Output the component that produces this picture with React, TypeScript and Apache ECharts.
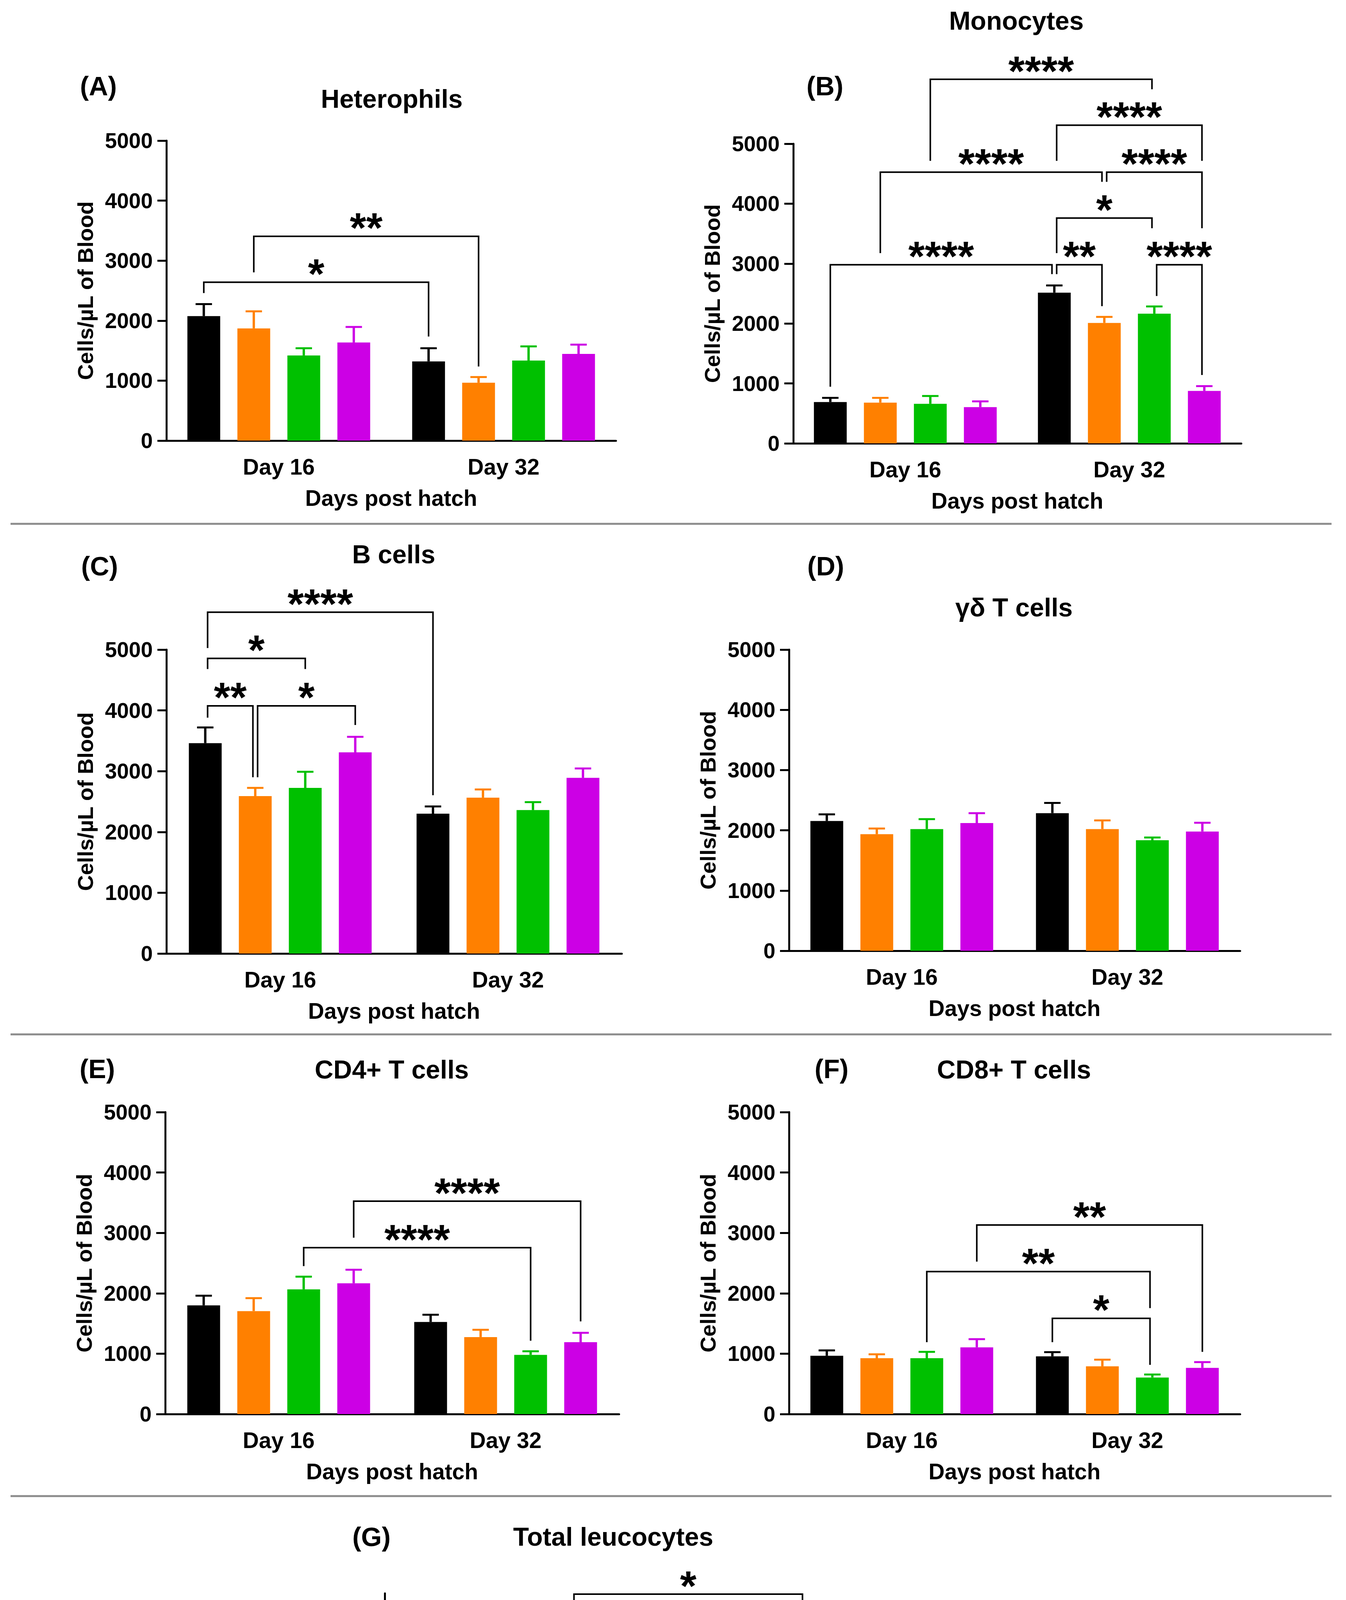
import React, { useEffect, useRef } from 'react';
import * as echarts from 'echarts';

// groups and colours
const groups = ['Sham', 'eBeam', 'Formalin', 'Combination'];
const groupLabels = ['Sham(n = 12)', 'eBeam(n = 12)', 'Formalin(n = 12)', 'Combination (n = 12)'];
const groupColors = ['#000000', '#FF8000', '#00C000', '#CC00E5'];
const days = ['Day 16', 'Day 32'];

// tick labels
const cellTicks = [0, 1000, 2000, 3000, 4000, 5000];
const totalTicks = [0, 2000, 4000, 6000, 8000, 10000, 12000];

// means / SEM : [Day 16, Day 32] x [Sham, eBeam, Formalin, Combination]
const heterophilsMean = [[2075, 1870, 1420, 1635], [1320, 965, 1335, 1445]];
const heterophilsSem = [[200, 285, 120, 260], [220, 95, 235, 155]];
const monocytesMean = [[690, 680, 660, 605], [2515, 2010, 2165, 875]];
const monocytesSem = [[70, 80, 130, 95], [120, 100, 120, 80]];
const bCellsMean = [[3460, 2590, 2725, 3310], [2300, 2565, 2360, 2890]];
const bCellsSem = [[260, 135, 265, 255], [120, 135, 130, 155]];
const gdTCellsMean = [[2155, 1935, 2020, 2120], [2285, 2020, 1835, 1980]];
const gdTCellsSem = [[110, 95, 165, 165], [170, 145, 45, 145]];
const cd4Mean = [[1800, 1705, 2065, 2165], [1525, 1275, 980, 1190]];
const cd4Sem = [[160, 215, 210, 225], [120, 120, 60, 155]];
const cd8Mean = [[965, 925, 925, 1105], [955, 790, 605, 765]];
const cd8Sem = [[90, 65, 105, 135], [70, 110, 50, 95]];
const totalMean = [[11515, 9990, 10145, 11215], [11450, 9965, 9625, 9480]];
const totalSem = [[485, 560, 770, 850], [605, 625, 365, 495]];

// significance brackets: [dayA, groupA, dayB, groupB, barY, legA, legB, label]
type Bracket = [number, number, number, number, number, number, number, string];
const heterophilsBrackets: Bracket[] = [
  [0, 0, 1, 0, 2640, 2460, 1735, '*'],
  [0, 1, 1, 1, 3405, 2805, 1235, '**'],
];
const monocytesBrackets: Bracket[] = [
  [0, 0, 1, 0, 2980, 945, 2825, '****'],
  [1, 0, 1, 1, 2980, 2825, 2290, '**'],
  [1, 2, 1, 3, 2980, 2460, 1140, '****'],
  [1, 0, 1, 2, 3760, 3175, 3590, '*'],
  [0, 1, 1, 1, 4525, 3175, 4365, '****'],
  [1, 1, 1, 3, 4525, 4365, 3590, '****'],
  [1, 0, 1, 3, 5310, 4715, 4715, '****'],
  [0, 2, 1, 2, 6075, 4715, 5910, '****'],
];
const bCellsBrackets: Bracket[] = [
  [0, 0, 1, 0, 5615, 5025, 2605, '****'],
  [0, 0, 0, 2, 4855, 4680, 4680, '*'],
  [0, 0, 0, 1, 4075, 3880, 2900, '**'],
  [0, 1, 0, 3, 4075, 2900, 3760, '*'],
];
const cd4Brackets: Bracket[] = [
  [0, 2, 1, 2, 2755, 2450, 1215, '****'],
  [0, 3, 1, 3, 3525, 2920, 1535, '****'],
];
const cd8Brackets: Bracket[] = [
  [1, 0, 1, 2, 1585, 1190, 815, '*'],
  [0, 2, 1, 2, 2360, 1190, 1755, '**'],
  [0, 3, 1, 3, 3130, 2525, 1030, '**'],
];
const totalBrackets: Bracket[] = [
  [0, 3, 1, 3, 12965, 12535, 10445, '*'],
];

const FONT = "'Liberation Sans', Arial, sans-serif";
const BAR_W = 84;
const BAR_GAP = 44;
const PITCH = BAR_W + BAR_GAP;

interface Panel {
  letter: string;
  title: string;
  mean: number[][];
  sem: number[][];
  brackets: Bracket[];
  ticks: number[];
  max: number;
  interval: number;
  grid: { left: number; top: number; width: number; height: number };
  letterPos: [number, number];
  titlePos: [number, number];
  yNameGap: number;
}

const panels: Panel[] = [
  {
    letter: '(A)', title: 'Heterophils', mean: heterophilsMean, sem: heterophilsSem,
    brackets: heterophilsBrackets, ticks: cellTicks, max: 5000, interval: 1000,
    grid: { left: 426, top: 360, width: 1151, height: 768 },
    letterPos: [252, 220], titlePos: [1003, 253], yNameGap: 180,
  },
  {
    letter: '(B)', title: 'Monocytes', mean: monocytesMean, sem: monocytesSem,
    brackets: monocytesBrackets, ticks: cellTicks, max: 5000, interval: 1000,
    grid: { left: 2031, top: 368, width: 1147, height: 767 },
    letterPos: [2112, 220], titlePos: [2602, 53], yNameGap: 180,
  },
  {
    letter: '(C)', title: 'B cells', mean: bCellsMean, sem: bCellsSem,
    brackets: bCellsBrackets, ticks: cellTicks, max: 5000, interval: 1000,
    grid: { left: 426, top: 1663, width: 1166, height: 778 },
    letterPos: [255, 1449], titlePos: [1008, 1419], yNameGap: 180,
  },
  {
    letter: '(D)', title: 'γδ T cells', mean: gdTCellsMean, sem: gdTCellsSem,
    brackets: [], ticks: cellTicks, max: 5000, interval: 1000,
    grid: { left: 2020, top: 1663, width: 1155, height: 771 },
    letterPos: [2114, 1449], titlePos: [2596, 1555], yNameGap: 180,
  },
  {
    letter: '(E)', title: 'CD4+ T cells', mean: cd4Mean, sem: cd4Sem,
    brackets: cd4Brackets, ticks: cellTicks, max: 5000, interval: 1000,
    grid: { left: 423, top: 2847, width: 1162, height: 773 },
    letterPos: [249, 2736], titlePos: [1003, 2738], yNameGap: 180,
  },
  {
    letter: '(F)', title: 'CD8+ T cells', mean: cd8Mean, sem: cd8Sem,
    brackets: cd8Brackets, ticks: cellTicks, max: 5000, interval: 1000,
    grid: { left: 2020, top: 2847, width: 1155, height: 773 },
    letterPos: [2129, 2736], titlePos: [2596, 2738], yNameGap: 180,
  },
  {
    letter: '(G)', title: 'Total leucocytes', mean: totalMean, sem: totalSem,
    brackets: totalBrackets, ticks: totalTicks, max: 13000, interval: 1000,
    grid: { left: 985, top: 4079, width: 1170, height: 782 },
    letterPos: [951, 3934], titlePos: [1570, 3934], yNameGap: 215,
  },
];

const separators = [1341, 2648, 3830];

function buildOption(): echarts.EChartsOption {
  const grids: any[] = [];
  const xAxes: any[] = [];
  const yAxes: any[] = [];
  const series: any[] = [];
  const graphics: any[] = [];

  panels.forEach((p, k) => {
    grids.push({ ...p.grid, containLabel: false });

    xAxes.push({
      type: 'category',
      gridIndex: k,
      data: days,
      axisLine: { lineStyle: { color: '#000', width: 5 } },
      axisTick: { alignWithLabel: true, length: 24, lineStyle: { color: '#000', width: 5 } },
      axisLabel: { color: '#000', fontSize: 57, fontWeight: 'bold', fontFamily: FONT, margin: 38 },
      name: 'Days post hatch',
      nameLocation: 'middle',
      nameGap: 118,
      nameTextStyle: { color: '#000', fontSize: 57, fontWeight: 'bold', fontFamily: FONT },
    });

    yAxes.push({
      type: 'value',
      gridIndex: k,
      min: 0,
      max: p.max,
      interval: p.interval,
      axisLine: { show: true, lineStyle: { color: '#000', width: 5 } },
      axisTick: { show: true, length: 23, lineStyle: { color: '#000', width: 5 }, customValues: p.ticks },
      axisLabel: {
        customValues: p.ticks,
        formatter: (v: number) => String(v),
        color: '#000', fontSize: 55, fontWeight: 'bold', fontFamily: FONT, margin: 35,
      },
      splitLine: { show: false },
      name: 'Cells/µL of Blood',
      nameLocation: 'middle',
      nameGap: p.yNameGap,
      nameTextStyle: { color: '#000', fontSize: 56, fontWeight: 'bold', fontFamily: FONT },
    });

    groups.forEach((g, gi) => {
      series.push({
        name: g,
        type: 'bar',
        xAxisIndex: k,
        yAxisIndex: k,
        barWidth: BAR_W,
        barGap: (BAR_GAP / BAR_W) * 100 + '%',
        itemStyle: { color: groupColors[gi] },
        data: days.map((_, d) => p.mean[d][gi]),
        z: 2,
      });
    });

    // error bars (upper only)
    const errData: number[][] = [];
    days.forEach((_, d) => groups.forEach((_, gi) => {
      errData.push([d, p.mean[d][gi] + p.sem[d][gi], gi, p.mean[d][gi]]);
    }));
    series.push({
      type: 'custom',
      xAxisIndex: k,
      yAxisIndex: k,
      z: 3,
      clip: false,
      silent: true,
      encode: { x: 0, y: 1 },
      data: errData,
      renderItem: (params: any, api: any) => {
        const d = api.value(0);
        const top = api.value(1);
        const gi = api.value(2);
        const m = api.value(3);
        const x = api.coord([d, 0])[0] + (gi - 1.5) * PITCH;
        const yTop = api.coord([d, top])[1];
        const yMean = api.coord([d, m])[1];
        const color = groupColors[gi];
        return {
          type: 'group',
          children: [
            { type: 'line', shape: { x1: x, y1: yMean, x2: x, y2: yTop }, style: { stroke: color, lineWidth: 6 } },
            { type: 'line', shape: { x1: x - 21, y1: yTop, x2: x + 21, y2: yTop }, style: { stroke: color, lineWidth: 5 } },
          ],
        };
      },
    });

    // brackets
    if (p.brackets.length) {
      const uses: Record<string, number> = {};
      p.brackets.forEach((b) => {
        const ka = b[0] + '-' + b[1];
        const kb = b[2] + '-' + b[3];
        uses[ka] = (uses[ka] || 0) + 1;
        uses[kb] = (uses[kb] || 0) + 1;
      });
      series.push({
        type: 'custom',
        xAxisIndex: k,
        yAxisIndex: k,
        z: 4,
        clip: false,
        silent: true,
        encode: { x: 0, y: 1 },
        data: p.brackets.map((b) => [b[0], b[4]]),
        renderItem: (params: any, api: any) => {
          const [aD, aG, bD, bG, y, ya, yb, label] = p.brackets[params.dataIndex];
          const nA = uses[aD + '-' + aG] > 1 ? 6 : 0;
          const nB = uses[bD + '-' + bG] > 1 ? -6 : 0;
          const xa = api.coord([aD, 0])[0] + (aG - 1.5) * PITCH + nA;
          const xb = api.coord([bD, 0])[0] + (bG - 1.5) * PITCH + nB;
          const py = api.coord([aD, y])[1];
          const pa = api.coord([aD, ya])[1];
          const pb = api.coord([aD, yb])[1];
          return {
            type: 'group',
            children: [
              {
                type: 'polyline',
                shape: { points: [[xa, pa], [xa, py], [xb, py], [xb, pb]] },
                style: { stroke: '#000', lineWidth: 4, fill: 'none' },
              },
              {
                type: 'text',
                x: (xa + xb) / 2,
                y: py - 22,
                style: {
                  text: label, fill: '#000', fontSize: 108, fontWeight: 'bold', fontFamily: FONT,
                  align: 'center', verticalAlign: 'middle',
                },
              },
            ],
          };
        },
      });
    }

    graphics.push({
      type: 'text', x: p.letterPos[0], y: p.letterPos[1],
      style: { text: p.letter, fill: '#000', fontSize: 68, fontWeight: 'bold', fontFamily: FONT, align: 'center', verticalAlign: 'middle' },
    });
    graphics.push({
      type: 'text', x: p.titlePos[0], y: p.titlePos[1],
      style: { text: p.title, fill: '#000', fontSize: 66, fontWeight: 'bold', fontFamily: FONT, align: 'center', verticalAlign: 'middle' },
    });
  });

  separators.forEach((y) => {
    graphics.push({
      type: 'line', shape: { x1: 27, y1: y, x2: 3409, y2: y },
      style: { stroke: '#8c8c8c', lineWidth: 5 },
    });
  });

  return {
    animation: false,
    backgroundColor: '#ffffff',
    textStyle: { fontFamily: FONT },
    grid: grids,
    xAxis: xAxes,
    yAxis: yAxes,
    legend: {
      orient: 'vertical',
      left: 2233,
      top: 4093,
      data: groups,
      icon: 'rect',
      itemWidth: 49,
      itemHeight: 47,
      itemGap: 24,
      selectedMode: false,
      formatter: (name: string) => groupLabels[groups.indexOf(name)],
      textStyle: { color: '#000', fontSize: 57, fontFamily: FONT, lineHeight: 60, padding: [0, 0, 0, 34] },
    },
    graphic: graphics,
    series,
  };
}

const App: React.FC = () => {
  const chartRef = useRef<HTMLDivElement>(null);

  useEffect(() => {
    if (!chartRef.current) return;
    const chart = echarts.init(chartRef.current, null, { renderer: 'svg' });
    chart.setOption(buildOption());
    return () => {
      chart.dispose();
    };
  }, []);

  // negative margin cancels the body's default 8px margin
  return (
    <div
      ref={chartRef}
      style={{ margin: '-8px', width: '3446px', height: '5067px', background: '#fff' }}
    />
  );
};

export default App;
